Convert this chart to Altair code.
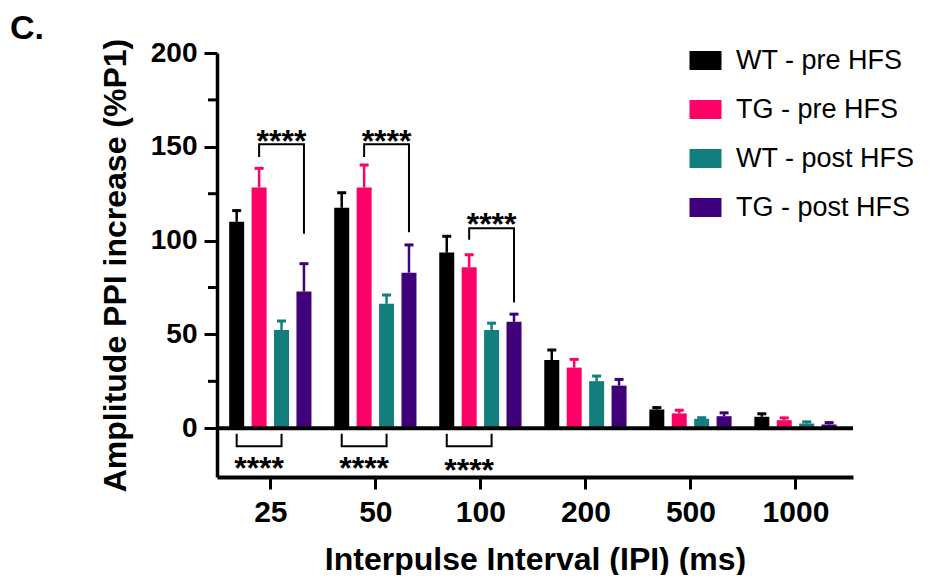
import altair as alt
import pandas as pd

# ---- data ----
ipi_labels = ["25", "50", "100", "200", "500", "1000"]
series = ["WT - pre HFS", "TG - pre HFS", "WT - post HFS", "TG - post HFS"]
colors = ["#000000", "#FF0066", "#127E7E", "#40007C"]

wt_pre = [110.0, 117.5, 93.6, 36.4, 10.0, 6.1]
wt_pre_err = [6.0, 8.0, 8.7, 5.3, 1.0, 1.6]
tg_pre = [128.3, 128.3, 85.8, 32.3, 7.9, 4.3]
tg_pre_err = [10.2, 12.0, 6.6, 4.4, 1.7, 1.2]
wt_post = [52.4, 66.3, 52.4, 25.1, 5.0, 2.5]
wt_post_err = [4.8, 4.7, 3.6, 2.7, 0.6, 0.9]
tg_post = [72.9, 82.9, 56.7, 22.7, 6.4, 2.0]
tg_post_err = [14.8, 14.8, 4.1, 3.3, 1.8, 1.0]

# significance brackets (group index, bracket leg ends / top values)
up_groups = [0, 1, 2]
up_left_bottom = [144.6, 144.6, 100.5]
up_top = [151.3, 151.3, 106.6]
up_right_bottom = [103.6, 104.5, 67.0]
up_star_y = [147.2, 147.2, 103.1]

low_groups = [0, 1, 2]
low_top = [-3.0, -3.0, -3.0]
low_bottom = [-9.6, -9.6, -9.6]
low_star_y = [-27.0, -27.0, -27.9]
star_text = "****"

minor_ticks = [25, 75, 125, 175]

# ---- build tables ----
means = [wt_pre, tg_pre, wt_post, tg_post]
errs = [wt_pre_err, tg_pre_err, wt_post_err, tg_post_err]
step = 0.2135
offsets = [(k - 1.5) * step for k in range(4)]

rows = []
for s, name in enumerate(series):
    for g in range(len(ipi_labels)):
        rows.append({
            "series": name,
            "x": g + offsets[s],
            "mean": means[s][g],
            "top": means[s][g] + errs[s][g],
        })
df = pd.DataFrame(rows)

br_rows = []
star_rows = []
for i, g in enumerate(up_groups):
    xl, xr = g + offsets[1], g + offsets[3]
    pts = [(xl, up_left_bottom[i]), (xl, up_top[i]), (xr, up_top[i]), (xr, up_right_bottom[i])]
    for k, (px, py) in enumerate(pts):
        br_rows.append({"bid": f"u{i}", "k": k, "x": px, "y": py})
    star_rows.append({"x": (xl + xr) / 2, "y": up_star_y[i], "t": star_text})
for i, g in enumerate(low_groups):
    xl, xr = g + offsets[0], g + offsets[2]
    pts = [(xl, low_top[i]), (xl, low_bottom[i]), (xr, low_bottom[i]), (xr, low_top[i])]
    for k, (px, py) in enumerate(pts):
        br_rows.append({"bid": f"l{i}", "k": k, "x": px, "y": py})
    star_rows.append({"x": (xl + xr) / 2, "y": low_star_y[i], "t": star_text})
br = pd.DataFrame(br_rows)
stars = pd.DataFrame(star_rows)
minor = pd.DataFrame({"v": minor_ticks})

W, H = 636, 424
xscale = alt.Scale(domain=[-0.46, 5.5], nice=False, zero=False)
yscale = alt.Scale(domain=[-26, 200], nice=False, zero=False)
label_expr = "[" + ",".join(f"'{l}'" for l in ipi_labels) + "][datum.value]"

x_axis = alt.Axis(
    values=list(range(len(ipi_labels))), labelExpr=label_expr,
    title="Interpulse Interval (IPI) (ms)", grid=False,
    domainColor="black", domainWidth=4, tickColor="black", tickWidth=3, tickSize=12,
    labelFontSize=30, labelFontWeight="bold", labelColor="black", labelPadding=8,
    titleFontSize=32, titleFontWeight="bold", titleColor="black", titlePadding=17,
)
y_axis = alt.Axis(
    values=[0, 50, 100, 150, 200], title="Amplitude PPI increase (%P1)", grid=False,
    domainColor="black", domainWidth=3.5, tickColor="black", tickWidth=3, tickSize=13,
    labelFontSize=28, labelFontWeight="bold", labelColor="black", labelPadding=7,
    titleFontSize=32, titleFontWeight="bold", titleColor="black", titlePadding=18,
)

color = alt.Color(
    "series:N",
    scale=alt.Scale(domain=series, range=colors),
    legend=alt.Legend(
        orient="none", legendX=475, legendY=-6, title=None, padding=0,
        symbolType="M-1.6,-0.95L1.6,-0.95L1.6,0.95L-1.6,0.95Z", symbolSize=400,
        symbolStrokeWidth=0, symbolOpacity=1, labelFontSize=27, labelColor="black",
        rowPadding=21, labelOffset=17, labelLimit=400,
    ),
)

bars = alt.Chart(df).mark_bar(size=15).encode(
    x=alt.X("x:Q", scale=xscale, axis=x_axis),
    y=alt.Y("mean:Q", scale=yscale, axis=y_axis),
    color=color,
)
err_line = alt.Chart(df).mark_rule(strokeWidth=2.5).encode(
    x="x:Q", y="mean:Q", y2="top:Q",
    color=alt.Color("series:N", scale=alt.Scale(domain=series, range=colors), legend=None),
)
err_cap = alt.Chart(df).mark_tick(orient="horizontal", size=9, thickness=3, opacity=1).encode(
    x="x:Q", y="top:Q",
    color=alt.Color("series:N", scale=alt.Scale(domain=series, range=colors), legend=None),
)
zero = alt.Chart(pd.DataFrame({"z": [0]})).mark_rule(color="black", strokeWidth=4).encode(y="z:Q")
minor_rules = alt.Chart(minor).mark_rule(color="black", strokeWidth=3).encode(
    y="v:Q", x=alt.value(-9), x2=alt.value(0)
)
brackets = alt.Chart(br).mark_line(color="black", strokeWidth=2).encode(
    x="x:Q", y="y:Q", detail="bid:N", order="k:Q"
)
star_marks = alt.Chart(stars).mark_text(
    fontSize=32, fontWeight="bold", align="center", baseline="alphabetic", color="black"
).encode(x="x:Q", y="y:Q", text="t:N")

chart = alt.layer(bars, err_line, err_cap, zero, minor_rules, brackets, star_marks).properties(
    width=W, height=H,
    autosize=alt.AutoSizeParams(type="none"),
    padding={"left": 209, "top": 45, "right": 75, "bottom": 98},
    title=alt.TitleParams("C.", anchor="start", frame="group", fontSize=34, fontWeight="bold",
                          color="black", dx=-207, dy=8, offset=0),
).configure(font="Liberation Sans").configure_view(stroke=None)

chart.save("out.html", embed_options={"renderer": "svg", "actions": False})
